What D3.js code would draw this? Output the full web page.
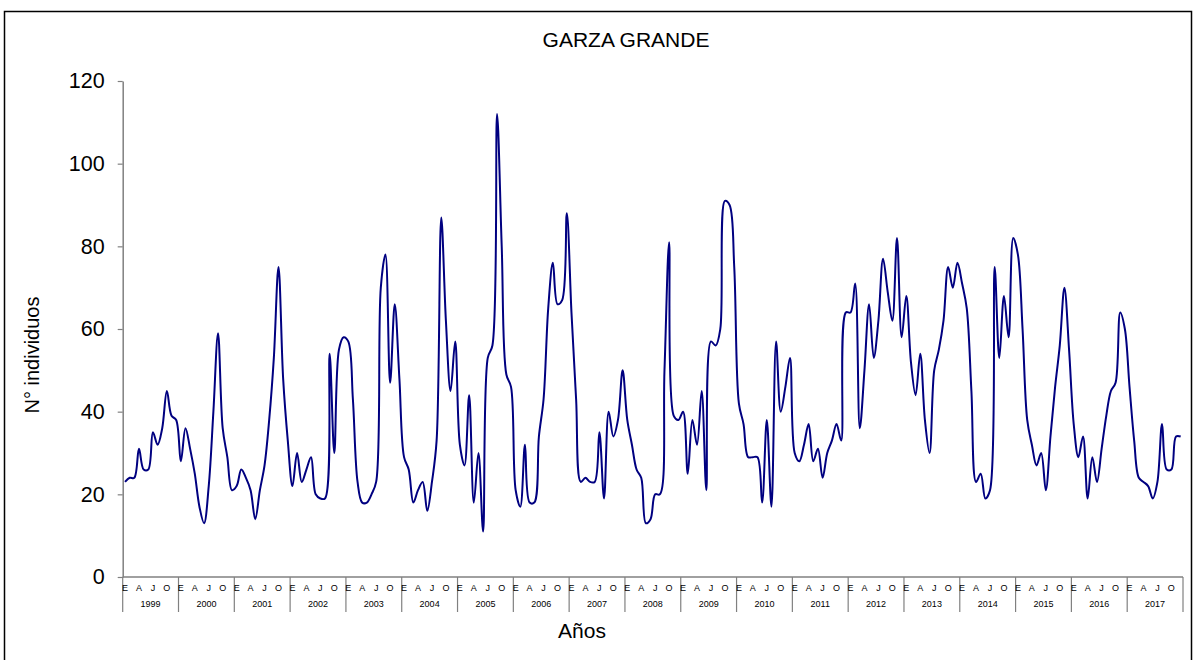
<!DOCTYPE html>
<html>
<head>
<meta charset="utf-8">
<script src="https://cdn.jsdelivr.net/npm/d3@7"></script>
<style>
  body { margin: 0; background: #fff; }
  svg { display: block; font-family: Arial, "Liberation Sans", sans-serif; }
</style>
</head>
<body>
<script>
// monthly counts, one row per year (Jan..Dec)
var counts = [
    23, 24, 24, 31, 26, 26, 35, 32, 36, 45, 39, 38,   // 1999
    28, 36, 31, 25, 17, 13, 22, 40, 59, 36, 29, 21,   // 2000
    22, 26, 24, 21, 14, 21, 27, 38, 53, 75, 48, 33,   // 2001
    22, 30, 23, 26, 29, 20, 19, 19, 54, 30, 55, 58,   // 2002
    57, 43, 23, 18, 18, 20, 23, 70, 78, 47, 66, 48,   // 2003
    29, 26, 18, 21, 23, 16, 23, 33, 87, 62, 45, 57,   // 2004
    32, 27, 44, 18, 30, 11, 53, 56, 112, 80, 49, 46,  // 2005
    21, 17, 32, 18, 18, 34, 43, 65, 76, 66, 67, 88,   // 2006
    64, 43, 23, 24, 23, 23, 35, 19, 40, 34, 38, 50,   // 2007
    38, 32, 26, 24, 13, 14, 20, 20, 50, 81, 39, 38,   // 2008
    40, 25, 38, 32, 45, 21, 57, 56, 60, 91, 90, 75,   // 2009
    42, 37, 29, 29, 29, 18, 38, 17, 57, 40, 46, 53,   // 2010
    30, 28, 32, 37, 28, 31, 24, 30, 33, 37, 33, 64,   // 2011
    64, 71, 36, 50, 66, 53, 62, 77, 69, 62, 82, 58,   // 2012
    68, 52, 44, 54, 38, 30, 50, 55, 62, 75, 70, 76,   // 2013
    71, 65, 45, 23, 25, 19, 21, 75, 53, 68, 58, 82,   // 2014
    78, 60, 38, 32, 27, 30, 21, 34, 46, 56, 70, 55,   // 2015
    37, 29, 34, 19, 29, 23, 31, 39, 45, 47, 64, 60,   // 2016
    46, 33, 24, 23, 22, 19, 23, 37, 26, 26, 34, 34    // 2017
];
var years = d3.range(1999, 2018);
var monthLabels = ["E", "", "", "A", "", "", "J", "", "", "O", "", ""];
var yTicks = [0, 20, 40, 60, 80, 100, 120];

function init() {
    var w = 1194, h = 660;
    var plotLeft = 122.7, plotRight = 1183, plotTop = 81, plotBottom = 577;

    var svg = d3.select("body").append("svg")
        .attr("width", w)
        .attr("height", h);

    // chart frame
    svg.append("rect")
        .attr("x", 4.5).attr("y", 11.5)
        .attr("width", 1187).attr("height", 700)
        .attr("fill", "none")
        .attr("stroke", "#000")
        .attr("stroke-width", 1.5);

    var xScale = d3.scaleBand()
        .domain(d3.range(counts.length))
        .range([plotLeft, plotRight]);

    var yScale = d3.scaleLinear()
        .domain([0, 120])
        .range([plotBottom, plotTop]);

    // y axis
    var yAxis = svg.append("g")
        .attr("transform", "translate(" + plotLeft + ",0)")
        .call(d3.axisLeft(yScale).tickValues(yTicks).tickSize(5).tickPadding(13).tickSizeOuter(0));
    yAxis.select(".domain").attr("stroke", "#808080").attr("stroke-width", 1.5);
    yAxis.selectAll(".tick line").attr("stroke", "#808080").attr("stroke-width", 1.2);
    yAxis.selectAll(".tick text")
        .attr("fill", "#000")
        .style("font-size", "21.5px")
        .style("font-family", "Arial, 'Liberation Sans', sans-serif");

    // x axis line
    svg.append("line")
        .attr("x1", plotLeft).attr("x2", plotRight)
        .attr("y1", plotBottom).attr("y2", plotBottom)
        .attr("stroke", "#808080")
        .attr("stroke-width", 1.5);

    // year separators
    svg.selectAll(".sep")
        .data(d3.range(years.length + 1))
        .enter()
        .append("line")
        .attr("class", "sep")
        .attr("x1", function(d) { return d < years.length ? xScale(d * 12) : plotRight; })
        .attr("x2", function(d) { return d < years.length ? xScale(d * 12) : plotRight; })
        .attr("y1", plotBottom)
        .attr("y2", 612)
        .attr("stroke", "#808080")
        .attr("stroke-width", 1.2);

    // month letters
    var monthIdx = d3.range(counts.length).filter(function(i) { return monthLabels[i % 12] !== ""; });
    svg.selectAll(".mlab")
        .data(monthIdx)
        .enter()
        .append("text")
        .attr("class", "mlab")
        .attr("x", function(i) { return xScale(i) + xScale.bandwidth() / 2; })
        .attr("y", 591)
        .attr("text-anchor", "middle")
        .style("font-size", "9px")
        .text(function(i) { return monthLabels[i % 12]; });

    // year labels
    svg.selectAll(".ylab")
        .data(years)
        .enter()
        .append("text")
        .attr("class", "ylab")
        .attr("x", function(d, i) { return xScale(i * 12) + xScale.bandwidth() * 6; })
        .attr("y", 607)
        .attr("text-anchor", "middle")
        .style("font-size", "9px")
        .text(function(d) { return d; });

    // the series
    var line = d3.line()
        .x(function(d, i) { return xScale(i) + xScale.bandwidth() / 2; })
        .y(function(d) { return yScale(d); })
        .curve(d3.curveCatmullRom.alpha(0.5));

    svg.append("path")
        .datum(counts)
        .attr("d", line)
        .attr("fill", "none")
        .attr("stroke", "#000080")
        .attr("stroke-width", 2);

    // titles
    svg.append("text")
        .attr("x", 626)
        .attr("y", 47)
        .attr("text-anchor", "middle")
        .style("font-size", "21px")
        .text("GARZA GRANDE");

    svg.append("text")
        .attr("transform", "translate(39,355) rotate(-90)")
        .attr("text-anchor", "middle")
        .style("font-size", "20px")
        .text("N° individuos");

    svg.append("text")
        .attr("x", 582)
        .attr("y", 638)
        .attr("text-anchor", "middle")
        .style("font-size", "21px")
        .text("Años");
}

window.onload = init;
</script>
</body>
</html>
